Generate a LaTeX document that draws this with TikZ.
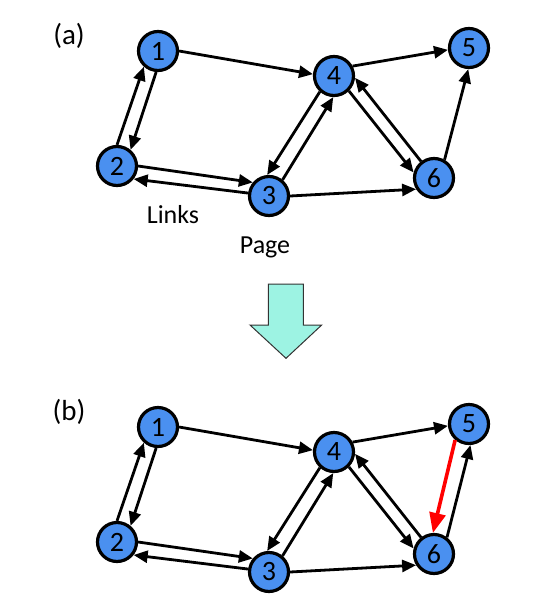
\documentclass[tikz,border=0pt]{standalone}
\usepackage{fontspec}
\setmainfont{Carlito}
\usetikzlibrary{arrows.meta}
\definecolor{pageblue}{RGB}{74,144,240}
\definecolor{downcyan}{RGB}{157,243,227}

\begin{document}
\begin{tikzpicture}[x=1pt,y=-1pt,
  page/.style={circle,draw,line width=3.2pt,fill=pageblue,minimum size=39pt,inner sep=0pt,font=\fontsize{28}{28}\selectfont},
  label/.style={font=\fontsize{26}{26}\selectfont},
  link/.style={line width=2.8pt,-{Triangle[length=14pt,width=12pt]}},
  newlink/.style={draw=red,line width=3.6pt,-{Triangle[length=20pt,width=16pt,fill=red]}}]
  \useasboundingbox (0,0) rectangle (559,614);

  % (a) before
  \node[label,font=\fontsize{29}{29}\selectfont] (ta) at (69,35.5) {(a)};
  \node[page] (a1) at (158,51) {1};
  \node[page] (a2) at (117,166) {2};
  \node[page] (a3) at (269,196) {3};
  \node[page] (a4) at (334,76) {4};
  \node[page] (a5) at (469,48) {5};
  \node[page] (a6) at (434,178) {6};
  \node[label,anchor=base] (links) at (173,223) {Links};
  \node[label,anchor=base] (pagetext) at (265,253.5) {Page};

  \draw[link] (a1.0) -- (a4.175);
  \draw[link] (a4.28) -- (a5.185);
  \draw[link] (a1.265) -- (a2.50);
  \draw[link] (a2.90) -- (a1.228);
  \draw[link] (a2.0) -- (a3.140);
  \draw[link] (a3.172) -- (a2.322);
  \draw[link] (a3.50) -- (a4.268);
  \draw[link] (a4.228) -- (a3.95);
  \draw[link] (a4.315) -- (a6.165);
  \draw[link] (a6.128) -- (a4.355);
  \draw[link] (a3.0) -- (a6.212);
  \draw[link] (a6.60) -- (a5.268);

  % down arrow
  \draw[fill=downcyan,draw=black!80,line width=1pt]
    (268.3,284) -- (303.3,284) -- (303.3,325) -- (321.7,325) -- (286,358.3)
    -- (250,325) -- (268.3,325) -- cycle;

  % (b) after
  \node[label,font=\fontsize{29}{29}\selectfont] (tb) at (69,411.5) {(b)};
  \node[page] (b1) at (158,427) {1};
  \node[page] (b2) at (117,542) {2};
  \node[page] (b3) at (269,572) {3};
  \node[page] (b4) at (334,452) {4};
  \node[page] (b5) at (469,424) {5};
  \node[page] (b6) at (434,554) {6};

  \draw[link] (b1.0) -- (b4.175);
  \draw[link] (b4.28) -- (b5.185);
  \draw[link] (b1.265) -- (b2.50);
  \draw[link] (b2.90) -- (b1.228);
  \draw[link] (b2.0) -- (b3.140);
  \draw[link] (b3.172) -- (b2.322);
  \draw[link] (b3.50) -- (b4.268);
  \draw[link] (b4.228) -- (b3.95);
  \draw[link] (b4.315) -- (b6.165);
  \draw[link] (b6.128) -- (b4.355);
  \draw[link] (b3.0) -- (b6.212);
  \draw[link] (b6.52) -- (b5.274);
  \draw[newlink] (b5.229) -- (b6.93);
\end{tikzpicture}
\end{document}
